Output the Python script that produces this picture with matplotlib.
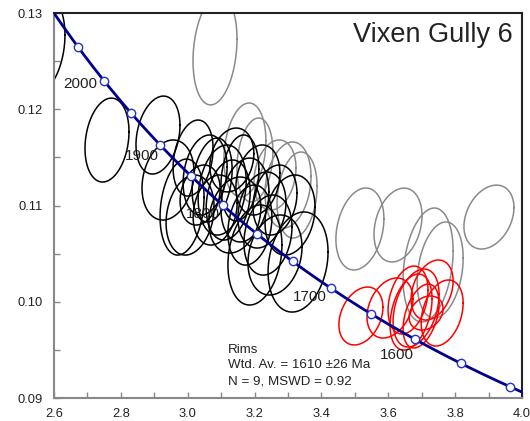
import numpy as np
import matplotlib
matplotlib.use("Agg")
import matplotlib.pyplot as plt
from matplotlib.ticker import MultipleLocator, FormatStrFormatter

plt.rcParams["font.family"] = ["Liberation Sans", "DejaVu Sans"]

# Analyses: centre (238U/206Pb, 207Pb/206Pb), half-extents of the error ellipse, correlation
black_x = [2.558, 2.7585, 2.911, 2.941, 2.983, 3.016, 3.052, 3.073, 3.103, 3.121, 3.156, 3.171, 3.141,
           3.186, 3.201, 3.222, 3.240, 3.261, 3.306, 3.330, 3.082, 3.037, 3.261, 3.132, 3.210, 3.007]
black_y = [0.12668, 0.11680, 0.11732, 0.11265, 0.10984, 0.11493, 0.11317, 0.11265, 0.11161, 0.11057,
           0.11286, 0.11057, 0.10901, 0.10797, 0.10486, 0.10953, 0.10693, 0.11057, 0.10901, 0.10413,
           0.10953, 0.11109, 0.10486, 0.11473, 0.11265, 0.10901]
black_sx = [0.0748, 0.0658, 0.0658, 0.0778, 0.0658, 0.0598, 0.0658, 0.0598, 0.0718, 0.0658, 0.0568, 0.0718,
            0.0778, 0.0658, 0.0808, 0.0718, 0.0718, 0.0658, 0.0748, 0.0897, 0.0658, 0.0598, 0.0808,
            0.0658, 0.0658, 0.0718]
black_sy = [0.00520, 0.00436, 0.00405, 0.00416, 0.00499, 0.00395, 0.00416, 0.00436, 0.00468, 0.00416,
            0.00447, 0.00436, 0.00395, 0.00416, 0.00520, 0.00395, 0.00416, 0.00364, 0.00416, 0.00520,
            0.00364, 0.00312, 0.00416, 0.00332, 0.00364, 0.00416]
black_rho = [0.2, 0.2, 0.25, 0.2, 0.2, 0.25, 0.2, 0.25, 0.2, 0.2, 0.2, 0.2, 0.2,
             0.2, 0.2, 0.2, 0.2, 0.2, 0.2, 0.2, 0.2, 0.2, 0.2, 0.2, 0.2, 0.2]

gray_x = [3.0816, 3.171, 3.201, 3.300, 3.327, 3.261, 3.515, 3.629, 3.719, 3.755, 3.901]
gray_y = [0.12616, 0.11577, 0.11473, 0.11213, 0.11109, 0.11317, 0.10756, 0.10797, 0.10382, 0.10330, 0.10880]
gray_sx = [0.0658, 0.0628, 0.0538, 0.0688, 0.0598, 0.0628, 0.0718, 0.0718, 0.0748, 0.0688, 0.0748]
gray_sy = [0.00571, 0.00488, 0.00436, 0.00447, 0.00447, 0.00364, 0.00426, 0.00384, 0.00592, 0.00499, 0.00332]
gray_rho = [0.2, 0.2, 0.2, 0.2, 0.2, 0.2, 0.25, 0.25, 0.25, 0.25, 0.3]

# rims used for the weighted average
red_x = [3.518, 3.605, 3.731, 3.761, 3.668, 3.683, 3.698, 3.713, 3.659]
red_y = [0.09852, 0.09935, 0.10122, 0.09883, 0.09893, 0.09935, 0.09852, 0.09883, 0.10018]
red_sx = [0.0658, 0.0688, 0.0628, 0.0628, 0.0628, 0.0688, 0.0538, 0.0509, 0.0598]
red_sy = [0.00301, 0.00312, 0.00312, 0.00343, 0.00395, 0.00405, 0.00332, 0.00177, 0.00353]
red_rho = [0.3, 0.3, 0.3, 0.3, 0.35, 0.35, 0.4, 0.25, 0.3]

# concordia age markers (Ma) and the ones that get a label
marker_ages = [1450, 1500, 1550, 1600, 1650, 1700, 1750, 1800, 1850, 1900, 1950, 2000, 2050]
label_text = ["2000", "1900", "1800", "1700", "1600"]
label_x = [2.627, 2.812, 2.995, 3.315, 3.575]
label_y = [0.12221, 0.11473, 0.10870, 0.10008, 0.09405]

L238 = 1.55125e-4   # per Ma
L235 = 9.8485e-4
U_RATIO = 137.88


def tera_wasserburg(t):
    t = np.asarray(t, dtype=float)
    e238 = np.exp(L238 * t) - 1
    e235 = np.exp(L235 * t) - 1
    return 1 / e238, e235 / e238 / U_RATIO


def draw_ellipses(ax, xs, ys, sxs, sys_, rhos, color):
    th = np.linspace(0, 2 * np.pi, 200)
    for x, y, sx, sy, r in zip(xs, ys, sxs, sys_, rhos):
        ex = x + sx * np.cos(th)
        ey = y + sy * (r * np.cos(th) + np.sqrt(1 - r * r) * np.sin(th))
        ax.plot(ex, ey, color=color, lw=1.1, zorder=2)


fig = plt.figure(figsize=(5.3, 4.21), dpi=100)
ax = fig.add_axes([0.1019, 0.0546, 0.8831, 0.9145])

draw_ellipses(ax, gray_x, gray_y, gray_sx, gray_sy, gray_rho, "#8a8a8a")
draw_ellipses(ax, black_x, black_y, black_sx, black_sy, black_rho, "black")
draw_ellipses(ax, red_x, red_y, red_sx, red_sy, red_rho, "#ff0000")

cx, cy = tera_wasserburg(np.linspace(1400, 2150, 400))
ax.plot(cx, cy, color="#00008c", lw=2, zorder=4)
mx, my = tera_wasserburg(marker_ages)
ax.plot(mx, my, "o", ms=6, mfc="white", mec="#2233cc", mew=1.0, zorder=5)

for txt, x, y in zip(label_text, label_x, label_y):
    ax.text(x, y, txt, fontsize=11, color="#222222", va="baseline", ha="left", zorder=6)

ax.text(3.973, 0.12702, "Vixen Gully 6", fontsize=19.5, color="#222222", ha="right", va="baseline")
ax.text(3.1205, 0.09467, "Rims", fontsize=9.6, color="#222222", va="baseline")
ax.text(3.1205, 0.09311, "Wtd. Av. = 1610 \u00b126 Ma", fontsize=9.6, color="#222222", va="baseline")
ax.text(3.1205, 0.09145, "N = 9, MSWD = 0.92", fontsize=9.6, color="#222222", va="baseline")

ax.set_xlim(2.6, 4.0)
ax.set_ylim(0.09, 0.13)
ax.xaxis.set_major_locator(MultipleLocator(0.2))
ax.xaxis.set_minor_locator(MultipleLocator(0.1))
ax.yaxis.set_major_locator(MultipleLocator(0.01))
ax.yaxis.set_minor_locator(MultipleLocator(0.005))
ax.xaxis.set_major_formatter(FormatStrFormatter("%.1f"))
ax.yaxis.set_major_formatter(FormatStrFormatter("%.2f"))
ax.tick_params(which="both", direction="in", length=4, width=1, color="#888888",
               labelsize=9.3, labelcolor="#222222")
ax.tick_params(axis="x", pad=7)
ax.tick_params(axis="y", pad=8)

for side in ("left", "bottom"):
    ax.spines[side].set_color("#888888")
    ax.spines[side].set_linewidth(1.5)
for side in ("top", "right"):
    ax.spines[side].set_color("#222222")
    ax.spines[side].set_linewidth(1.5)

fig.savefig("out.png", dpi=100)
